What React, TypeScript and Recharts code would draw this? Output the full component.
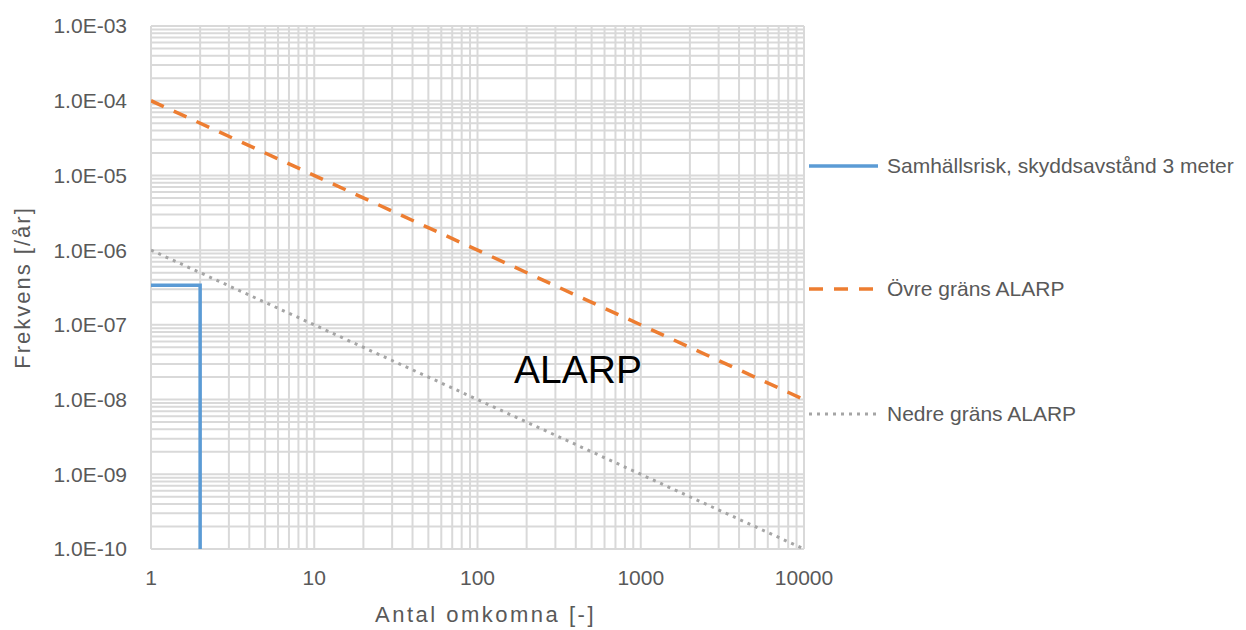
import { LineChart, Line, XAxis, YAxis, CartesianGrid } from "recharts";

// grid / tick positions (log axes, 1..9 per decade)
const MANTISSAS = [1, 2, 3, 4, 5, 6, 7, 8, 9];
const X_DECADES = [1, 10, 100, 1000];
const Y_DECADES = [1e-10, 1e-9, 1e-8, 1e-7, 1e-6, 1e-5, 1e-4];
const X_TICKS = [...X_DECADES.flatMap((d) => MANTISSAS.map((m) => m * d)), 10000];
const Y_TICKS = [...Y_DECADES.flatMap((d) => MANTISSAS.map((m) => m * d)), 1e-3];

// series
const samhallsrisk = [
  { x: 1, y: 3.4e-7 },
  { x: 2, y: 3.4e-7 },
  { x: 2, y: 1e-10 },
];
const ovreGrans = [
  { x: 1, y: 1e-4 },
  { x: 10000, y: 1e-8 },
];
const nedreGrans = [
  { x: 1, y: 1e-6 },
  { x: 10000, y: 1e-10 },
];

const COLORS = {
  samhalls: "#5B9BD5",
  ovre: "#ED7D31",
  nedre: "#A5A5A5",
  grid: "#D9D9D9",
  text: "#595959",
};

const isDecade = (v: number) => Math.abs(Math.log10(v) - Math.round(Math.log10(v))) < 1e-9;

const fmtX = (v: number) => (isDecade(v) ? String(Math.round(v)) : "");
const fmtY = (v: number) => {
  if (!isDecade(v)) return "";
  const exp = Math.round(Math.log10(v));
  return `1.0E-${String(-exp).padStart(2, "0")}`;
};

const LEGEND = [
  { name: "Samhällsrisk, skyddsavstånd 3 meter", color: COLORS.samhalls, dash: undefined, width: 3.5, top: 166 },
  { name: "Övre gräns ALARP", color: COLORS.ovre, dash: "14 11", width: 3.5, top: 289 },
  { name: "Nedre gräns ALARP", color: COLORS.nedre, dash: "3 5", width: 3, top: 414 },
];

export default function App() {
  const font = "'Liberation Sans', Arial, sans-serif";
  return (
    <div style={{ position: "absolute", left: 0, top: 0, width: 1246, height: 630, fontFamily: font, background: "#fff", overflow: "hidden" }}>
      <LineChart width={1246} height={630} margin={{ top: 26, right: 442, bottom: 21, left: 0 }}>
        <CartesianGrid stroke={COLORS.grid} strokeWidth={2} />
        <XAxis
          dataKey="x"
          type="number"
          scale="log"
          domain={[1, 10000]}
          allowDataOverflow
          ticks={X_TICKS}
          interval={0}
          tickFormatter={fmtX}
          axisLine={false}
          tickLine={false}
          tickSize={0}
          tickMargin={21}
          height={60}
          tick={{ fill: COLORS.text, fontSize: 21 }}
          label={{
            value: "Antal omkomna [-]",
            position: "bottom",
            offset: -3,
            dx: 8,
            style: { fill: COLORS.text, fontSize: 22, letterSpacing: 2.5 },
          }}
        />
        <YAxis
          dataKey="y"
          type="number"
          scale="log"
          domain={[1e-10, 1e-3]}
          allowDataOverflow
          ticks={Y_TICKS}
          interval={0}
          tickFormatter={fmtY}
          axisLine={false}
          tickLine={false}
          tickSize={0}
          tickMargin={24}
          width={151}
          tick={{ fill: COLORS.text, fontSize: 21 }}
          label={{
            value: "Frekvens [/år]",
            angle: -90,
            position: "insideLeft",
            offset: 22,
            style: { textAnchor: "middle", fill: COLORS.text, fontSize: 22, letterSpacing: 2 },
          }}
        />
        <Line
          data={nedreGrans}
          dataKey="y"
          stroke={COLORS.nedre}
          strokeWidth={3}
          strokeDasharray="3 5"
          dot={false}
          isAnimationActive={false}
        />
        <Line
          data={ovreGrans}
          dataKey="y"
          stroke={COLORS.ovre}
          strokeWidth={3.5}
          strokeDasharray="14 11"
          dot={false}
          isAnimationActive={false}
        />
        <Line
          data={samhallsrisk}
          dataKey="y"
          stroke={COLORS.samhalls}
          strokeWidth={3.5}
          dot={false}
          isAnimationActive={false}
        />
      </LineChart>

      {/* area label */}
      <div style={{ position: "absolute", left: 514, top: 350, fontSize: 39, color: "#000", lineHeight: 1 }}>ALARP</div>

      {/* legend, right side */}
      {LEGEND.map((item) => (
        <div key={item.name} style={{ position: "absolute", left: 809, top: item.top - 14, height: 28, display: "flex", alignItems: "center" }}>
          <svg width={70} height={10} style={{ display: "block" }}>
            <line x1={0} y1={5} x2={69} y2={5} stroke={item.color} strokeWidth={item.width} strokeDasharray={item.dash} />
          </svg>
          <span style={{ marginLeft: 8, fontSize: 21, color: COLORS.text, whiteSpace: "nowrap" }}>{item.name}</span>
        </div>
      ))}
    </div>
  );
}
